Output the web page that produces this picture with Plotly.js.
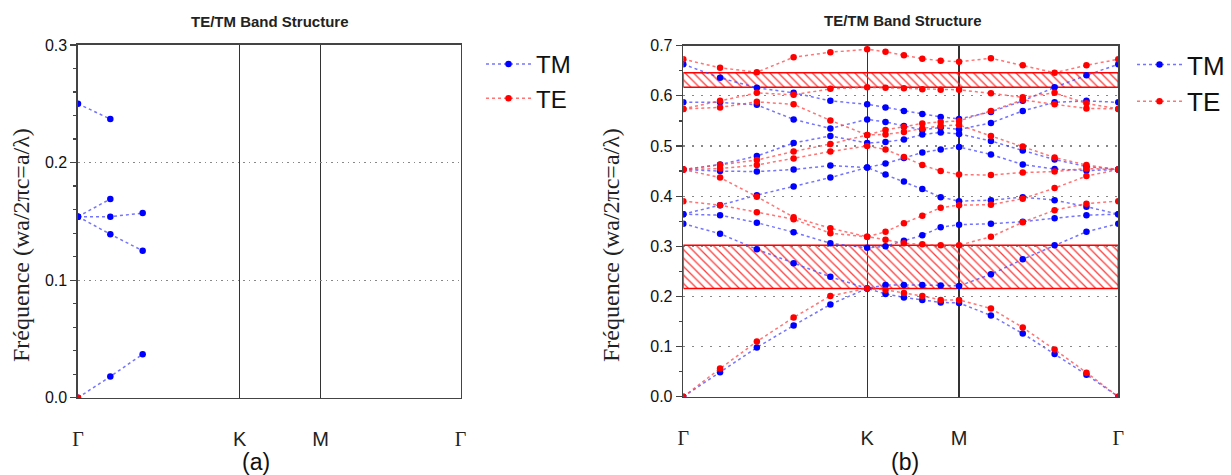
<!DOCTYPE html>
<html>
<head>
<meta charset="utf-8">
<script src="https://cdn.plot.ly/plotly-3.0.1.min.js"></script>
<style>html,body{margin:0;padding:0;background:#fff;}#chart{width:1231px;height:475px;}</style>
</head>
<body>
<div id="chart"></div>
<script>
// ---- k-path ----
const kNames = ['Γ', 'K', 'M', 'Γ'];
const kSym = [0, 0.6667, 1.0, 1.5774];
const kPoints = [0, 0.1333, 0.2667, 0.4, 0.5333, 0.6667, 0.7333, 0.8, 0.8667, 0.9333, 1.0,
                 1.1155, 1.2309, 1.3464, 1.4619, 1.5774];

// ---- panel (b): TM bands ----
const tm1 = [0, 0.049, 0.098, 0.142, 0.184, 0.216, 0.205, 0.198, 0.193, 0.188, 0.187, 0.162, 0.126, 0.085, 0.044, 0];
const tm2 = [0.345, 0.325, 0.294, 0.266, 0.239, 0.216, 0.223, 0.223, 0.223, 0.222, 0.221, 0.244, 0.274, 0.302, 0.329, 0.345];
const tm3 = [0.364, 0.362, 0.347, 0.328, 0.306, 0.297, 0.300, 0.311, 0.322, 0.338, 0.343, 0.345, 0.349, 0.356, 0.362, 0.364];
const tm4 = [0.364, 0.382, 0.402, 0.419, 0.437, 0.457, 0.443, 0.429, 0.414, 0.398, 0.390, 0.392, 0.398, 0.392, 0.379, 0.364];
const tm5 = [0.453, 0.450, 0.449, 0.453, 0.461, 0.457, 0.465, 0.476, 0.487, 0.493, 0.498, 0.483, 0.463, 0.454, 0.451, 0.453];
const tm6 = [0.453, 0.463, 0.480, 0.506, 0.520, 0.506, 0.508, 0.513, 0.523, 0.527, 0.524, 0.510, 0.491, 0.473, 0.459, 0.453];
const tm7 = [0.587, 0.587, 0.582, 0.553, 0.535, 0.553, 0.548, 0.540, 0.532, 0.537, 0.533, 0.546, 0.570, 0.587, 0.590, 0.587];
const tm8 = [0.663, 0.636, 0.616, 0.606, 0.590, 0.583, 0.577, 0.570, 0.564, 0.558, 0.554, 0.568, 0.590, 0.617, 0.641, 0.663];

// ---- panel (b): TE bands ----
const te1 = [0, 0.056, 0.110, 0.158, 0.201, 0.216, 0.213, 0.207, 0.201, 0.193, 0.193, 0.176, 0.138, 0.094, 0.048, 0];
const te2 = [0.390, 0.382, 0.368, 0.354, 0.326, 0.319, 0.313, 0.306, 0.304, 0.302, 0.302, 0.319, 0.348, 0.372, 0.385, 0.390];
const te3 = [0.453, 0.437, 0.399, 0.358, 0.336, 0.319, 0.329, 0.346, 0.361, 0.377, 0.382, 0.383, 0.395, 0.416, 0.440, 0.453];
const te4 = [0.453, 0.455, 0.462, 0.475, 0.489, 0.500, 0.493, 0.478, 0.462, 0.450, 0.443, 0.442, 0.447, 0.449, 0.455, 0.453];
const te5 = [0.453, 0.462, 0.472, 0.489, 0.504, 0.522, 0.523, 0.528, 0.535, 0.540, 0.542, 0.520, 0.499, 0.477, 0.462, 0.453];
const te6 = [0.574, 0.577, 0.588, 0.583, 0.551, 0.522, 0.532, 0.538, 0.545, 0.548, 0.550, 0.570, 0.592, 0.583, 0.575, 0.574];
const te7 = [0.574, 0.590, 0.606, 0.602, 0.614, 0.617, 0.616, 0.615, 0.613, 0.612, 0.612, 0.605, 0.597, 0.606, 0.585, 0.574];
const te8 = [0.673, 0.656, 0.647, 0.677, 0.687, 0.693, 0.688, 0.681, 0.674, 0.670, 0.668, 0.675, 0.661, 0.646, 0.661, 0.673];

// ---- panel (b): TE band gaps ----
const gapLow  = [0.216, 0.617];
const gapHigh = [0.302, 0.646];

// ---- panel (a): partial TM bands ----
const aTm1 = [0, 0.018, 0.037];
const aTm2 = [0.154, 0.139, 0.125];
const aTm3 = [0.154, 0.154, 0.157];
const aTm4 = [0.154, 0.169];
const aTm5 = [0.250, 0.237];
const aTe1 = [0];

function joinBands(bands) {
  const x = [], y = [];
  bands.forEach((b, i) => {
    if (i > 0) { x.push(null); y.push(null); }
    b.forEach((v, j) => { x.push(kPoints[j]); y.push(v); });
  });
  return {x, y};
}

const BLUE = '#0000ff', RED = '#ff0000';
const BLUE_L = 'rgba(70,70,255,0.75)', RED_L = 'rgba(255,70,70,0.75)';

const traces = [];

// hatched gaps (panel b)
const kEnd = kPoints[kPoints.length - 1];
gapLow.forEach((lo, i) => {
  const hi = gapHigh[i];
  traces.push({
    type: 'scatter', mode: 'lines', xaxis: 'x2', yaxis: 'y2',
    x: [0, kEnd, kEnd, 0, 0], y: [lo, lo, hi, hi, lo],
    fill: 'toself', fillcolor: 'rgba(0,0,0,0)',
    fillpattern: {shape: '\\', fgcolor: 'rgba(255,40,40,0.9)', bgcolor: 'rgba(255,255,255,0)', size: 6, solidity: 0.22},
    line: {color: RED, width: 1.5},
    showlegend: false, hoverinfo: 'skip'
  });
});

const tmB = joinBands([tm1, tm2, tm3, tm4, tm5, tm6, tm7, tm8]);
const teB = joinBands([te1, te2, te3, te4, te5, te6, te7, te8]);
traces.push({type: 'scatter', mode: 'lines+markers', name: 'TM', xaxis: 'x2', yaxis: 'y2',
  x: tmB.x, y: tmB.y, line: {color: BLUE_L, width: 1.5, dash: 'dot'},
  marker: {color: BLUE, size: 6.5, symbol: 'circle'}, legend: 'legend'});
traces.push({type: 'scatter', mode: 'lines+markers', name: 'TE', xaxis: 'x2', yaxis: 'y2',
  x: teB.x, y: teB.y, line: {color: RED_L, width: 1.5, dash: 'dot'},
  marker: {color: RED, size: 6.5, symbol: 'circle'}, legend: 'legend'});

const aTmB = joinBands([aTm1, aTm2, aTm3, aTm4, aTm5]);
const aTeB = joinBands([aTe1]);
traces.push({type: 'scatter', mode: 'lines+markers', name: 'TM', xaxis: 'x', yaxis: 'y',
  x: aTmB.x, y: aTmB.y, line: {color: BLUE_L, width: 1.5, dash: 'dot'},
  marker: {color: BLUE, size: 6.5, symbol: 'circle'}, legend: 'legend2'});
traces.push({type: 'scatter', mode: 'lines+markers', name: 'TE', xaxis: 'x', yaxis: 'y',
  x: aTeB.x, y: aTeB.y, line: {color: RED_L, width: 1.5, dash: 'dot'},
  marker: {color: RED, size: 6.5, symbol: 'circle'}, legend: 'legend2'});

const W = 1231, H = 475;
const tickTextK = kNames.map(n => n === 'Γ' ? '<span style="font-family:Liberation Serif">Γ</span>' : n);

function xAx(d, anchor) {
  return {domain: d, anchor: anchor, range: [0, kEnd], tickvals: kSym, ticktext: tickTextK,
    showgrid: true, gridcolor: '#333', gridwidth: 1.3, zeroline: false, ticks: '',
    ticklabelstandoff: 23, tickfont: {family: 'Liberation Sans', size: 20, color: '#222'},
    showline: true, mirror: true, linecolor: '#444', linewidth: 1.6, fixedrange: true};
}
function yAx(d, anchor, top, minor, dash) {
  return {domain: d, anchor: anchor, range: [0, top], dtick: 0.1, tick0: 0, tickformat: '.1f',
    ticks: 'outside', ticklen: 6, tickcolor: '#444', tickwidth: 1.2,
    minor: {dtick: minor, ticks: 'outside', ticklen: 3, tickcolor: '#444', showgrid: false},
    showgrid: true, gridcolor: '#888', gridwidth: 1.2, griddash: dash, zeroline: false,
    tickfont: {family: 'Liberation Sans', size: 16, color: '#111'},
    showline: true, mirror: true, linecolor: '#444', linewidth: 1.6, fixedrange: true};
}

const layout = {
  width: W, height: H, margin: {l: 0, r: 0, t: 0, b: 0},
  paper_bgcolor: '#fff', plot_bgcolor: '#fff',
  xaxis: xAx([78 / W, 460.5 / W], 'y'),
  yaxis: yAx([(H - 397.7) / H, (H - 45) / H], 'x', 0.3, 0.02, '1.5px,4px'),
  xaxis2: xAx([683.3 / W, 1118.3 / W], 'y2'),
  yaxis2: yAx([(H - 396.7) / H, (H - 45.7) / H], 'x2', 0.7, 0.05, '2px,7px'),
  legend: {x: 1132 / W, y: 1 - 41 / H, xanchor: 'left', yanchor: 'top', bgcolor: 'rgba(0,0,0,0)',
    font: {family: 'Liberation Sans', size: 26, color: '#111'}, itemwidth: 45, tracegroupgap: 0},
  legend2: {x: 481 / W, y: 1 - 42 / H, xanchor: 'left', yanchor: 'top', bgcolor: 'rgba(0,0,0,0)',
    font: {family: 'Liberation Sans', size: 24, color: '#111'}, itemwidth: 45, tracegroupgap: 0},
  annotations: [
    {text: '<b>TE/TM Band Structure</b>', xref: 'paper', yref: 'paper', x: 270 / W, y: 1 - 22 / H,
     showarrow: false, xanchor: 'center', yanchor: 'middle',
     font: {family: 'Liberation Sans Narrow, Liberation Sans', size: 15, color: '#222'}},
    {text: '<b>TE/TM Band Structure</b>', xref: 'paper', yref: 'paper', x: 903 / W, y: 1 - 20 / H,
     showarrow: false, xanchor: 'center', yanchor: 'middle',
     font: {family: 'Liberation Sans Narrow, Liberation Sans', size: 15, color: '#222'}},
    {text: 'Fréquence (wa/2πc=a/λ)', xref: 'paper', yref: 'paper', x: 21 / W, y: 1 - 245 / H,
     showarrow: false, textangle: -90, xanchor: 'center', yanchor: 'middle',
     font: {family: 'Liberation Serif', size: 24, color: '#222'}},
    {text: 'Fréquence (wa/2πc=a/λ)', xref: 'paper', yref: 'paper', x: 611 / W, y: 1 - 245 / H,
     showarrow: false, textangle: -90, xanchor: 'center', yanchor: 'middle',
     font: {family: 'Liberation Serif', size: 24, color: '#222'}},
    {text: '(a)', xref: 'paper', yref: 'paper', x: 256 / W, y: 1 - 462 / H,
     showarrow: false, xanchor: 'center', yanchor: 'middle',
     font: {family: 'Liberation Sans', size: 23, color: '#111'}},
    {text: '(b)', xref: 'paper', yref: 'paper', x: 905 / W, y: 1 - 462 / H,
     showarrow: false, xanchor: 'center', yanchor: 'middle',
     font: {family: 'Liberation Sans', size: 23, color: '#111'}}
  ]
};

Plotly.newPlot('chart', traces, layout, {staticPlot: true, displayModeBar: false});
</script>
</body>
</html>
